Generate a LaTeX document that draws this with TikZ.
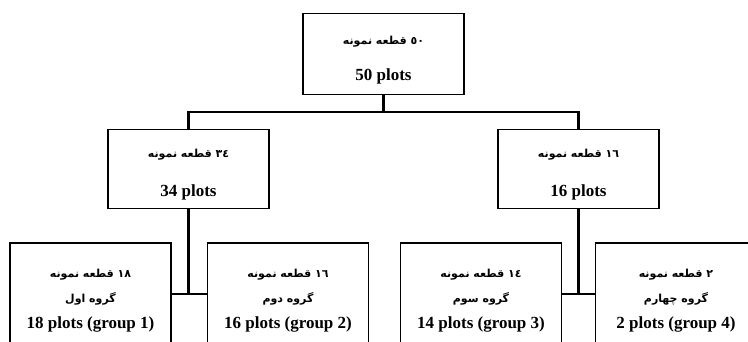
\documentclass[tikz,border=0pt]{standalone}
\usepackage{fontspec}
\setmainfont{Liberation Serif}
\newfontfamily\arabicfont[Script=Arabic]{DejaVu Sans}
\TeXXeTstate=1
\tikzset{
  box/.style={draw, line width=1.6pt, inner sep=0pt, rectangle, minimum width=161pt},
  conn/.style={line width=2.6pt},
  en/.style={font=\fontsize{17}{20}\selectfont\bfseries, inner sep=0pt, anchor=base},
  fa/.style={font=\fontsize{11}{13}\selectfont\arabicfont\bfseries, inner sep=0pt, anchor=base}
}
\begin{document}
\begin{tikzpicture}[x=1pt,y=-1pt]
\useasboundingbox (0,0) rectangle (748,341);
\fill[white] (0,0) rectangle (748,341);
\clip (0,0) rectangle (748,341);
% boxes
\node[box, minimum height=81pt] (top) at (383.5,54) {};
\node[box, minimum height=79pt] (m1) at (188.5,169) {};
\node[box, minimum height=79pt] (m2) at (578.5,169) {};
\node[box, minimum height=120pt] (b1) at (90.5,303) {};
\node[box, minimum height=120pt] (b2) at (288,303) {};
\node[box, minimum height=120pt] (b3) at (481,303) {};
\node[box, minimum height=120pt] (b4) at (676,303) {};
% texts
\node[fa] (t1) at (383.5,44) {\beginR\beginL ٥٠\endL{} قطعه نمونه\endR};
\node[en] (t2) at (383.5,80) {50 plots};
\node[fa] (m1a) at (188.5,157) {\beginR\beginL ٣٤\endL{} قطعه نمونه\endR};
\node[en] (m1b) at (188.5,196) {34 plots};
\node[fa] (m2a) at (578.5,157) {\beginR\beginL ١٦\endL{} قطعه نمونه\endR};
\node[en] (m2b) at (578.5,196) {16 plots};
\node[fa] (b1a) at (90.5,277) {\beginR\beginL ١٨\endL{} قطعه نمونه\endR};
\node[fa] (b1b) at (90.5,302) {\beginR گروه اول\endR};
\node[en] (b1c) at (90.5,328) {18 plots (group 1)};
\node[fa] (b2a) at (288,277) {\beginR\beginL ١٦\endL{} قطعه نمونه\endR};
\node[fa] (b2b) at (288,302) {\beginR گروه دوم\endR};
\node[en] (b2c) at (288,328) {16 plots (group 2)};
\node[fa] (b3a) at (481,277) {\beginR\beginL ١٤\endL{} قطعه نمونه\endR};
\node[fa] (b3b) at (481,302) {\beginR گروه سوم\endR};
\node[en] (b3c) at (481,328) {14 plots (group 3)};
\node[fa] (b4a) at (676,277) {\beginR\beginL ٢\endL{} قطعه نمونه\endR};
\node[fa] (b4b) at (676,302) {\beginR گروه چهارم\endR};
\node[en] (b4c) at (676,328) {2 plots (group 4)};
% connectors
\coordinate (h) at (383.5,112);
\coordinate (j1) at (188.5,294);
\coordinate (j2) at (578.5,294);
\draw[conn] (top.south) -- (h);
\draw[conn] (m1.north) -- (m1.north |- h) -- (m2.north |- h) -- (m2.north);
\draw[conn] (m1.south) -- (j1);
\draw[conn] (m2.south) -- (j2);
\draw[conn] (b1.east |- j1) -- (b2.west |- j1);
\draw[conn] (b3.east |- j2) -- (b4.west |- j2);
\end{tikzpicture}
\end{document}
